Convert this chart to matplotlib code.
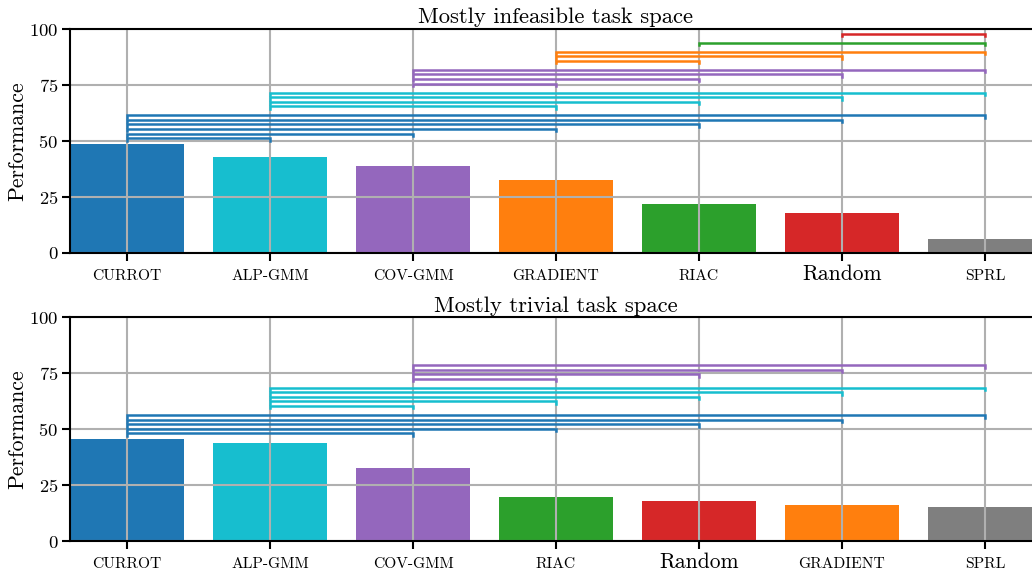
import numpy as np
import matplotlib.pyplot as plt

plt.rcParams['font.family'] = 'cmr10'
plt.rcParams['axes.formatter.use_mathtext'] = True

colors = {
    "CURROT": "#1f77b4",
    "ALP-GMM": "#17becf",
    "COV-GMM": "#9467bd",
    "GRADIENT": "#ff7f0e",
    "RIAC": "#2ca02c",
    "Random": "#d62728",
    "SPRL": "#7f7f7f",
}

# mostly infeasible task space
inf_methods = ["CURROT", "ALP-GMM", "COV-GMM", "GRADIENT", "RIAC", "Random", "SPRL"]
inf_perf = [48.7, 42.9, 38.8, 32.6, 21.9, 17.9, 6.3]
inf_sig = [
    ("CURROT", "ALP-GMM"), ("CURROT", "COV-GMM"), ("CURROT", "GRADIENT"),
    ("CURROT", "RIAC"), ("CURROT", "Random"), ("CURROT", "SPRL"),
    ("ALP-GMM", "GRADIENT"), ("ALP-GMM", "RIAC"), ("ALP-GMM", "Random"), ("ALP-GMM", "SPRL"),
    ("COV-GMM", "GRADIENT"), ("COV-GMM", "RIAC"), ("COV-GMM", "Random"), ("COV-GMM", "SPRL"),
    ("GRADIENT", "RIAC"), ("GRADIENT", "Random"), ("GRADIENT", "SPRL"),
    ("RIAC", "SPRL"),
    ("Random", "SPRL"),
]

# mostly trivial task space
triv_methods = ["CURROT", "ALP-GMM", "COV-GMM", "RIAC", "Random", "GRADIENT", "SPRL"]
triv_perf = [45.5, 43.7, 32.5, 19.6, 17.8, 16.0, 15.2]
triv_sig = [
    ("CURROT", "COV-GMM"), ("CURROT", "RIAC"), ("CURROT", "Random"),
    ("CURROT", "GRADIENT"), ("CURROT", "SPRL"),
    ("ALP-GMM", "COV-GMM"), ("ALP-GMM", "RIAC"), ("ALP-GMM", "Random"),
    ("ALP-GMM", "GRADIENT"), ("ALP-GMM", "SPRL"),
    ("COV-GMM", "RIAC"), ("COV-GMM", "Random"), ("COV-GMM", "GRADIENT"), ("COV-GMM", "SPRL"),
]


def draw_panel(ax, methods, perf, sig, title, title_pad):
    x = np.arange(len(methods))
    ax.bar(x, perf, width=0.8, color=[colors[m] for m in methods])

    # significance brackets, stacked above the tallest bar
    h = max(perf) + 2.6
    step = 2.03
    for i, m in enumerate(methods):
        targets = [j for j, t in enumerate(methods) if (m, t) in sig]
        if not targets:
            continue
        for j in targets:
            ax.plot([i, i, j, j], [h - 1.1, h, h, h - 1.1], color=colors[m],
                    lw=1.8, solid_joinstyle='miter', zorder=3)
            h += step
        h += step

    ax.set_xlim(-0.4, len(methods) - 0.6)
    ax.set_ylim(0, 100)
    ax.set_yticks([0, 25, 50, 75, 100])
    ax.set_xticks(x)
    ax.set_xticklabels([m if m == "Random" else m.upper() for m in methods])
    for lab, m in zip(ax.get_xticklabels(), methods):
        lab.set_fontsize(15.5 if m == "Random" else 11.2)
        lab.set_verticalalignment('baseline')
    ax.tick_params(axis='x', length=6, width=1.5, pad=13.5)
    ax.tick_params(axis='y', length=6, width=1.5, pad=2.5, labelsize=13.4)
    ax.grid(True, color='#b0b0b0', lw=1.5)
    for s in ax.spines.values():
        s.set_linewidth(1.5)
    ax.set_ylabel("Performance", fontsize=15.7, labelpad=1)
    ax.set_title(title, fontsize=16.3, pad=title_pad)


fig = plt.figure(figsize=(10.32, 5.75), dpi=100)
W, H = 1032, 575
ax1 = fig.add_axes([70 / W, (H - 253) / H, 972 / W, 224 / H])
ax2 = fig.add_axes([70 / W, (H - 541) / H, 972 / W, 224 / H])

draw_panel(ax1, inf_methods, inf_perf, inf_sig, "Mostly infeasible task space", 4.5)
draw_panel(ax2, triv_methods, triv_perf, triv_sig, "Mostly trivial task space", 3.5)

fig.savefig("out.png", dpi=100)
